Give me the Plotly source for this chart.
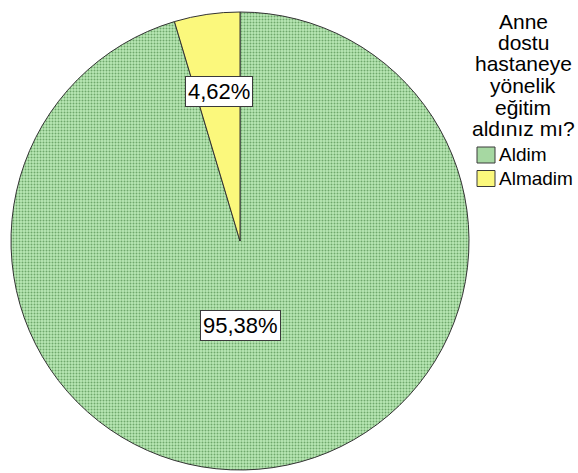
import plotly.graph_objects as go

# Survey answers and their shares (percent)
categories = ["Aldim", "Almadim"]
shares = [95.38, 4.62]
legend_title_lines = ["Anne", "dostu", "hastaneye", "yönelik", "eğitim", "aldınız mı?"]

W, H = 578, 473
FONT = "Liberation Sans, Arial, sans-serif"

slice_colors = ["#b9e8b5", "#fbf87c"]
pattern_fg = ["#6fa86c", "#fbf87c"]
pattern_shapes = [".", ""]


def px(x):
    return x / W


def py(y):
    return 1 - y / H


fig = go.Figure()
fig.add_trace(go.Pie(
    labels=categories,
    values=shares,
    sort=False,
    direction="clockwise",
    rotation=0,
    textinfo="none",
    hoverinfo="label+percent",
    showlegend=False,
    marker=dict(
        colors=slice_colors,
        line=dict(color="#333333", width=1),
        pattern=dict(shape=pattern_shapes, fgcolor=pattern_fg,
                     bgcolor=slice_colors, size=3, solidity=0.35),
    ),
    domain=dict(x=[px(11), px(469)], y=[py(470), py(12)]),
))


def pct(v):
    return f"{v:.2f}".replace(".", ",") + "%"


# Boxed value labels placed inside each slice
label_pos = [(240.5, 325), (218.5, 91.5)]
for v, (lx, ly) in zip(shares, label_pos):
    fig.add_annotation(
        x=px(lx), y=py(ly), xref="paper", yref="paper",
        text=pct(v), showarrow=False,
        font=dict(family=FONT, size=22, color="#000000"),
        bgcolor="#ffffff", bordercolor="#3a3a3a", borderwidth=1, borderpad=2,
        xanchor="center", yanchor="middle",
    )

# Legend title, one annotation per line for tight line spacing
for i, line in enumerate(legend_title_lines):
    fig.add_annotation(
        x=px(523), y=py(21 + i * 21.5), xref="paper", yref="paper",
        text=line, showarrow=False,
        font=dict(family=FONT, size=21, color="#000000"),
        xanchor="center", yanchor="middle",
    )

# Legend entries
for i, (cat, col) in enumerate(zip(categories, slice_colors)):
    y0 = 147 + i * 23.5
    fig.add_shape(
        type="rect", xref="paper", yref="paper",
        x0=px(477), x1=px(495), y0=py(y0), y1=py(y0 + 16),
        fillcolor=col if i else "#a6d8a2", line=dict(color="#3a3a3a", width=1),
    )
    fig.add_annotation(
        x=px(497), y=py(y0 + 8), xref="paper", yref="paper",
        text=cat, showarrow=False,
        font=dict(family=FONT, size=19, color="#000000"),
        xanchor="left", yanchor="middle",
    )

fig.update_layout(
    width=W, height=H,
    margin=dict(l=0, r=0, t=0, b=0),
    paper_bgcolor="#ffffff",
    plot_bgcolor="#ffffff",
)

fig.write_html("out.html")
